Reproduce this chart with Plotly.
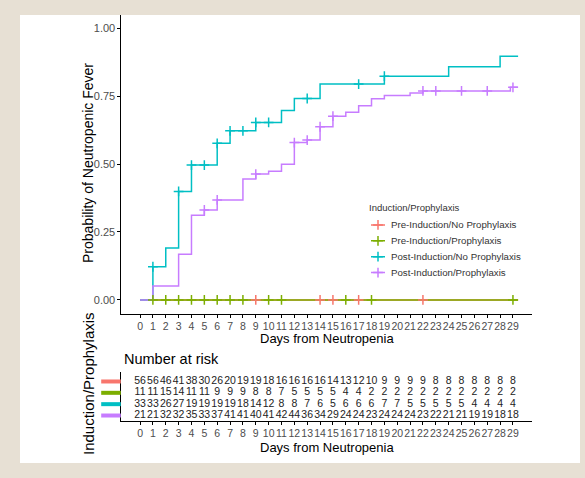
import plotly.graph_objects as go

# ---- data -------------------------------------------------------------
days = list(range(30))
groups = [
    "Pre-Induction/No Prophylaxis",
    "Pre-Induction/Prophylaxis",
    "Post-Induction/No Prophylaxis",
    "Post-Induction/Prophylaxis",
]
colors = ["#F8766D", "#7CAE00", "#00BFC4", "#C77CFF"]

# cumulative incidence step functions (time of step, value after step)
pre_noproph_t = [0]
pre_noproph_p = [0.0]
pre_proph_t = [0]
pre_proph_p = [0.0]
post_noproph_t = [0, 1, 2, 3, 4, 6, 7, 9, 11, 12, 14, 19, 24, 28]
post_noproph_p = [0.0, 0.122, 0.191, 0.399, 0.496, 0.576, 0.622, 0.653,
                  0.697, 0.741, 0.794, 0.823, 0.858, 0.896]
post_proph_t = [0, 1, 3, 4, 5, 6, 8, 9, 10, 11, 12, 13, 14, 15, 16, 17, 18,
                19, 21, 22, 28.8]
post_proph_p = [0.0, 0.051, 0.168, 0.311, 0.331, 0.368, 0.445, 0.463, 0.473,
                0.499, 0.579, 0.588, 0.637, 0.676, 0.690, 0.714, 0.740, 0.752,
                0.761, 0.769, 0.782]
last_followup = 29.4

# censoring times
pre_noproph_cens = [9, 14, 15, 17, 22]
pre_proph_cens = [1, 2, 3, 4, 5, 6, 7, 8, 10, 11, 16, 18, 29]
post_noproph_cens = [1, 3, 4, 5, 6, 7, 8, 9, 10, 13, 17, 19]
post_proph_cens = [5, 6, 9, 12, 13, 14, 15, 22, 23, 25, 27, 29]

# number at risk by day
pre_noproph_risk = [56, 56, 46, 41, 38, 30, 26, 20, 19, 19, 18, 16, 16, 16, 16,
                    14, 13, 12, 10, 9, 9, 9, 9, 8, 8, 8, 8, 8, 8, 8]
pre_proph_risk = [11, 11, 15, 14, 11, 11, 9, 9, 9, 8, 8, 7, 5, 5, 5, 5, 4, 4,
                  2, 2, 2, 2, 2, 2, 2, 2, 2, 2, 2, 2]
post_noproph_risk = [33, 33, 26, 27, 19, 19, 19, 19, 18, 14, 12, 8, 8, 7, 6, 5,
                     6, 6, 6, 7, 7, 5, 5, 5, 5, 5, 4, 4, 4, 4]
post_proph_risk = [21, 21, 32, 32, 35, 33, 37, 41, 41, 40, 41, 42, 44, 36, 34,
                   29, 24, 24, 23, 24, 24, 24, 23, 22, 21, 21, 19, 19, 18, 18]

step_t = [pre_noproph_t, pre_proph_t, post_noproph_t, post_proph_t]
step_p = [pre_noproph_p, pre_proph_p, post_noproph_p, post_proph_p]
cens_t = [pre_noproph_cens, pre_proph_cens, post_noproph_cens, post_proph_cens]
risk = [pre_noproph_risk, pre_proph_risk, post_noproph_risk, post_proph_risk]

W, H = 585, 478
FONT = "Liberation Sans, Arial, sans-serif"
n = len(groups)
rows = list(range(n))


def px_x(v):
    return v / W


def px_y(v):
    return 1 - v / H


def value_at(ts, ps, t):
    val = ps[0]
    for ti, pi in zip(ts, ps):
        if ti <= t:
            val = pi
    return val


fig = go.Figure()

# step curves
for ts, ps, c in zip(step_t, step_p, colors):
    fig.add_trace(go.Scatter(
        x=ts + [last_followup], y=ps + [ps[-1]], mode="lines",
        line=dict(color=c, width=1.5, shape="hv"),
        showlegend=False, hoverinfo="skip", xaxis="x", yaxis="y"))

# censor marks
for ts, ps, cs, c in zip(step_t, step_p, cens_t, colors):
    fig.add_trace(go.Scatter(
        x=cs, y=[value_at(ts, ps, t) for t in cs], mode="markers",
        marker=dict(symbol="cross-thin", size=7, line=dict(color=c, width=1.5)),
        showlegend=False, hoverinfo="skip", xaxis="x", yaxis="y"))

# legend keys (short line with a cross), one row per group
for i, c in enumerate(colors):
    fig.add_trace(go.Scatter(
        x=[0, 1], y=[i, i], mode="lines", line=dict(color=c, width=1.5),
        showlegend=False, hoverinfo="skip", xaxis="x3", yaxis="y3"))
    fig.add_trace(go.Scatter(
        x=[0.5], y=[i], mode="markers",
        marker=dict(symbol="cross-thin", size=7, line=dict(color=c, width=1.5)),
        showlegend=False, hoverinfo="skip", xaxis="x3", yaxis="y3"))

# risk table numbers
for i, r in enumerate(risk):
    fig.add_trace(go.Scatter(
        x=days, y=[i] * len(days), mode="text",
        text=[str(v) for v in r], textposition="middle center",
        textfont=dict(family=FONT, size=10.5, color="#222222"),
        showlegend=False, hoverinfo="skip", cliponaxis=False,
        xaxis="x2", yaxis="y2"))

# colour strips labelling the risk-table rows
fig.add_trace(go.Scatter(
    x=[0.5] * n, y=rows, mode="markers",
    marker=dict(symbol="line-ew", size=14,
                line=dict(color=colors, width=4)),
    showlegend=False, hoverinfo="skip", cliponaxis=False,
    xaxis="x4", yaxis="y2"))

x_dom = [px_x(121.4), px_x(531.6)]
axis_common = dict(
    showgrid=False, zeroline=False, showline=True, linecolor="black",
    linewidth=1, ticks="outside", ticklen=3, tickcolor="black", tickangle=0,
    tickfont=dict(family=FONT, size=10.5, color="#4d4d4d"),
)
hidden = dict(visible=False, showgrid=False, zeroline=False)

fig.update_layout(
    width=W, height=H, margin=dict(l=0, r=0, t=0, b=0),
    paper_bgcolor="#e7e0d4", plot_bgcolor="rgba(0,0,0,0)",
    font=dict(family=FONT, color="black"),
    showlegend=False,
    xaxis=dict(domain=x_dom, range=[-1.45, 30.45], tickvals=days,
               anchor="y", **axis_common),
    yaxis=dict(domain=[px_y(313.5), px_y(14.5)], range=[-0.05, 1.05],
               tickvals=[0, 0.25, 0.5, 0.75, 1.0], tickformat=".2f",
               anchor="x", **dict(axis_common, tickfont=dict(
                   family=FONT, size=11, color="#4d4d4d"))),
    xaxis2=dict(domain=x_dom, range=[-1.45, 30.45], tickvals=days,
                anchor="y2", **axis_common),
    yaxis2=dict(domain=[px_y(420.5), px_y(372.4)], range=[n - 1 + 0.44, -0.8],
                anchor="x2", showgrid=False, zeroline=False, showline=True,
                linecolor="black", linewidth=1, ticks="",
                showticklabels=False),
    xaxis3=dict(domain=[px_x(371), px_x(385)], range=[0, 1], anchor="y3",
                **hidden),
    yaxis3=dict(domain=[px_y(280.5), px_y(217)], range=[n - 0.5, -0.5],
                anchor="x3", **hidden),
    xaxis4=dict(domain=[px_x(104), px_x(118)], range=[0, 1], anchor="y2",
                **hidden),
    shapes=[dict(type="rect", xref="paper", yref="paper", layer="below",
                 x0=px_x(20), x1=px_x(580), y0=px_y(463), y1=px_y(15),
                 fillcolor="white", line=dict(width=0))],
    annotations=[
        dict(text="Probability of Neutropenic Fever", x=px_x(88), y=px_y(163),
             xref="paper", yref="paper", textangle=-90, showarrow=False,
             xanchor="center", yanchor="middle", font=dict(size=14)),
        dict(text="Days from Neutropenia", x=px_x(326.5), y=px_y(338),
             xref="paper", yref="paper", showarrow=False,
             xanchor="center", yanchor="middle", font=dict(size=13)),
        dict(text="Induction/Prophylaxis", x=px_x(88), y=px_y(384),
             xref="paper", yref="paper", textangle=-90, showarrow=False,
             xanchor="center", yanchor="middle", font=dict(size=15)),
        dict(text="Number at risk", x=px_x(122), y=px_y(359),
             xref="paper", yref="paper", showarrow=False,
             xanchor="left", yanchor="middle", font=dict(size=14.5)),
        dict(text="Days from Neutropenia", x=px_x(326.5), y=px_y(447),
             xref="paper", yref="paper", showarrow=False,
             xanchor="center", yanchor="middle", font=dict(size=13)),
        dict(text="Induction/Prophylaxis", x=px_x(367), y=px_y(207),
             xref="paper", yref="paper", showarrow=False,
             xanchor="left", yanchor="middle",
             font=dict(size=9.5, color="#333333")),
    ] + [
        dict(text=g, x=px_x(389), y=i, xref="paper", yref="y3",
             showarrow=False, xanchor="left", yanchor="middle",
             font=dict(size=9.7, color="#333333"))
        for i, g in enumerate(groups)
    ],
)

fig.write_html("out.html")
